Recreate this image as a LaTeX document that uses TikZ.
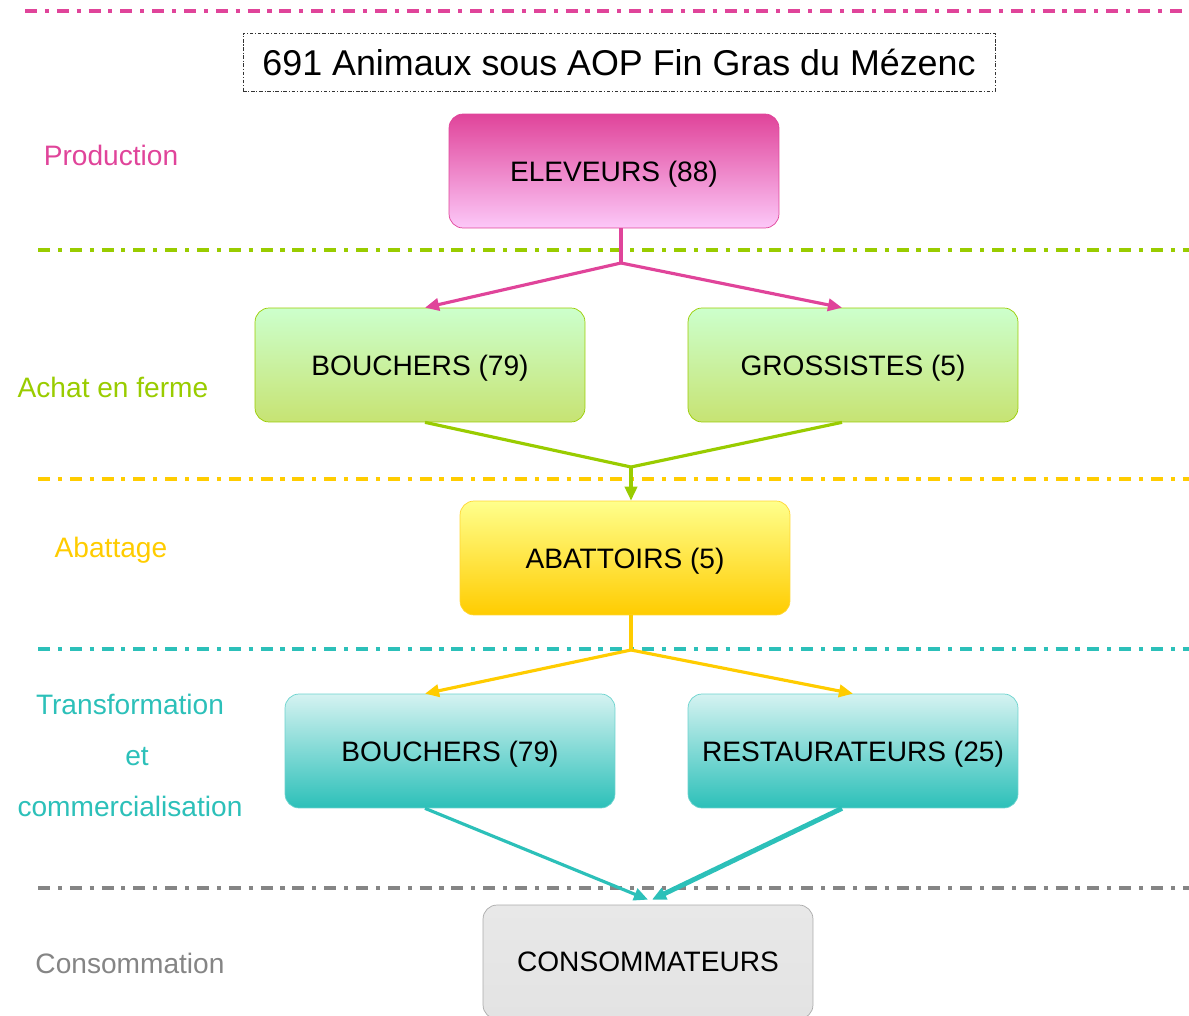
\documentclass[tikz,border=0pt]{standalone}
\usepackage{fontspec}
\setmainfont{Liberation Sans}
\usetikzlibrary{arrows.meta}
\definecolor{rose}{HTML}{E0449A}
\definecolor{rosep}{HTML}{FCC8F8}
\definecolor{vert}{HTML}{99CC00}
\definecolor{jaune}{HTML}{FFCC00}
\definecolor{turq}{HTML}{2CC0B9}
\definecolor{gris}{HTML}{858585}
\begin{document}
\begin{tikzpicture}[x=0.02cm,y=-0.02cm,line join=round,>={Triangle[length=8pt,width=7pt]}]
	\tikzset{
		box/.style={draw,rounded corners=8pt,minimum width=6.6cm,minimum height=2.28cm,text depth=0pt,font=\fontsize{16}{19}\selectfont},
		sep/.style={line width=2pt,dash pattern=on 6.8pt off 4.5pt on 2.3pt off 4.5pt},
		etage/.style={font=\fontsize{16}{19}\selectfont},
		flux/.style={line width=1.8pt}
	}
	\useasboundingbox (0,0) rectangle (1189,1016);
	% separateurs
	\draw[sep,rose] (25,11)--(1189,11);
	\draw[sep,vert] (38,250)--(1189,250);
	\draw[sep,jaune] (38,479)--(1189,479);
	\draw[sep,turq] (38,649)--(1189,649);
	\draw[sep,gris] (38,888)--(1189,888);
	% titre
	\node[draw,black!80,text=black,line width=0.5pt,dash pattern=on 2pt off 1pt on 0.6pt off 1pt,minimum width=15.04cm,minimum height=1.16cm,font=\fontsize{20.4}{24}\selectfont] (titre) at (619,62) {691 Animaux sous AOP Fin Gras du Mézenc};
	% etages
	\node[etage,text=rose] (prod) at (111,155) {Production};
	\node[etage,text=vert] (achat) at (113,387) {Achat en ferme};
	\node[etage,text=jaune] (abat) at (111,550) {Abattage};
	\node[etage,text=turq,align=center,font=\fontsize{16}{29}\selectfont] (transf) at (130,755) {Transformation\\\hspace*{8pt}et\\commercialisation};
	\node[etage,text=gris] (conso) at (130,963) {Consommation};
	% acteurs
	\node[box,draw=rose,top color=rose,bottom color=rosep] (elev) at (614,171) {ELEVEURS (88)};
	\node[box,draw=vert,top color=green!20!white,bottom color=vert!55!white] (bouch) at (420,365) {BOUCHERS (79)};
	\node[box,draw=vert,top color=green!20!white,bottom color=vert!55!white] (gross) at (853,365) {GROSSISTES (5)};
	\node[box,draw=jaune!80!white,top color=yellow!45!white,bottom color=jaune] (abatt) at (625,558) {ABATTOIRS (5)};
	\node[box,draw=turq!70!white,top color=turq!20!white,bottom color=turq] (bouchb) at (450,751) {BOUCHERS (79)};
	\node[box,draw=turq!70!white,top color=turq!20!white,bottom color=turq] (resto) at (853,751) {RESTAURATEURS (25)};
	\node[box,draw=gris!70!white,top color=gray!18!white,bottom color=gray!22!white] (consom) at (648,962) {CONSOMMATEURS};
	% flux
	\coordinate (r1) at (621,263);
	\coordinate (v1) at (631,467);
	\coordinate (j1) at (631,650);
	\draw[flux,rose] (elev.south -| r1)--(r1);
	\draw[flux,rose,->] (r1)--([xshift=0.1cm]bouch.north);
	\draw[flux,rose,->] (r1)--([xshift=-0.22cm]gross.north);
	\draw[flux,vert] ([xshift=0.1cm]bouch.south)--(v1)--([xshift=-0.22cm]gross.south);
	\draw[flux,vert,->] (v1)--(abatt.north -| v1);
	\draw[flux,jaune] (abatt.south -| j1)--(j1);
	\draw[flux,jaune,->] (j1)--([xshift=-0.5cm]bouchb.north);
	\draw[flux,jaune,->] (j1)--(resto.north);
	\draw[flux,turq,->] ([xshift=-0.5cm]bouchb.south)--([yshift=0.1cm]consom.north);
	\draw[flux,turq,line width=2.8pt,->] ([xshift=-0.22cm]resto.south)--([xshift=0.08cm,yshift=0.1cm]consom.north);
\end{tikzpicture}
\end{document}
